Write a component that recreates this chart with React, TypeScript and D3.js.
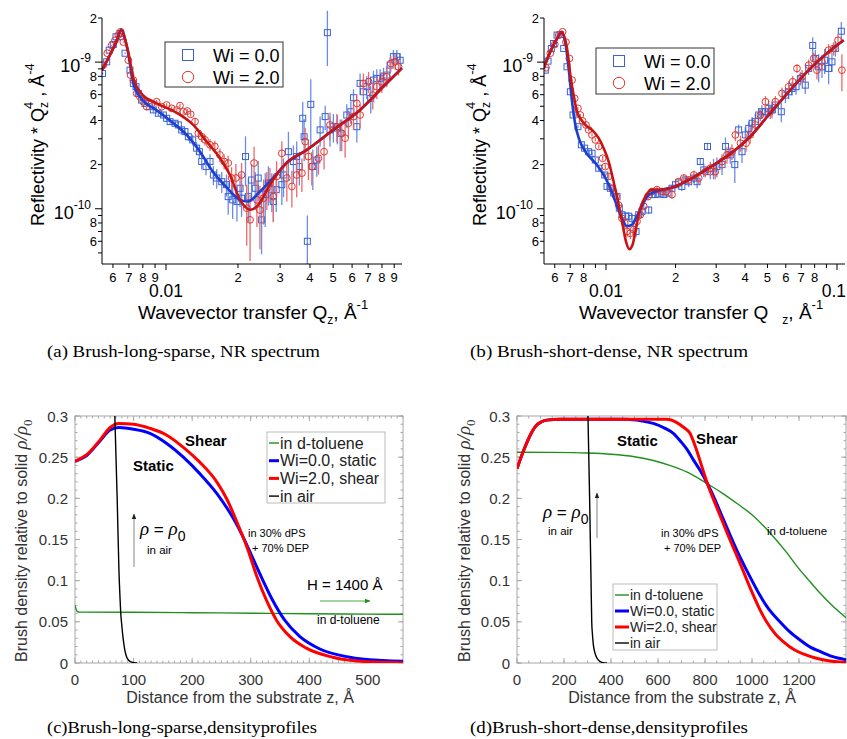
import React from "react";
import * as d3 from "d3";

type XY = [number, number];
type Pt = [number, number, number];

const SANS = "'Liberation Sans', Arial, Helvetica, sans-serif";
const SERIF = "'Liberation Serif', 'Times New Roman', serif";

const MARK_BLUE = "#3a62d6";
const MARK_RED = "#e0362e";
const FIT_BLUE = "#1d3fcf";
const FIT_RED = "#c81414";
const ERR_BLUE = "#6b8be6";
const ERR_RED = "#ea6a6a";

// ---- (a) Brush-long-sparse, NR spectrum ----
// q in 1/Å, reflectivity*Qz^4 in units of 1e-10 Å^-4 ; points are [q, R, err]
const aFitStatic: XY[] = [
  [0.0054, 8.8], [0.0058, 11.0], [0.0062, 13.8], [0.0065, 16.6], [0.0068, 13.6], [0.00695, 11.5],
  [0.0073, 7.2], [0.008, 5.5], [0.0091, 4.72], [0.0107, 3.85], [0.0122, 3.19], [0.0139, 2.44],
  [0.0157, 1.79], [0.018, 1.39], [0.0204, 1.15], [0.022, 1.12], [0.0247, 1.31], [0.028, 1.62],
  [0.032, 2.06], [0.0388, 2.52], [0.05, 3.45], [0.0648, 4.72], [0.0809, 6.79], [0.097, 9.1],
];
const aFitShear: XY[] = [
  [0.0054, 8.8], [0.0058, 11.0], [0.0062, 13.8], [0.0065, 16.6], [0.0068, 13.6], [0.00695, 11.75],
  [0.0073, 7.78], [0.008, 5.96], [0.0091, 5.26], [0.0111, 4.5], [0.013, 3.73], [0.0148, 2.87],
  [0.0168, 2.22], [0.0185, 1.7], [0.0204, 1.15], [0.0225, 0.985], [0.0243, 1.06], [0.0272, 1.46],
  [0.032, 2.06], [0.0388, 2.52], [0.05, 3.45], [0.0648, 4.72], [0.0809, 6.79], [0.097, 9.1],
];
const aPtsStatic: Pt[] = [
  [0.00543, 8.37, 0.15], [0.00565, 10.05, 0.15], [0.00579, 12.07, 0.15], [0.00602, 13.2, 0.15],
  [0.00618, 14.9, 0.15], [0.00642, 15.7, 0.15], [0.00652, 14.9, 0.15], [0.00674, 11.5, 0.15],
  [0.00707, 8.82, 0.15], [0.0073, 7.16, 0.15], [0.00749, 6.8, 0.15], [0.00766, 6.12, 0.15],
  [0.00791, 5.51, 0.15], [0.00817, 5.23, 0.15], [0.00852, 4.97, 0.2], [0.00885, 4.72, 0.2],
  [0.00929, 4.48, 0.2], [0.00975, 4.36, 0.2], [0.01006, 4.14, 0.2], [0.0104, 3.93, 0.2],
  [0.0109, 3.83, 0.2], [0.01126, 3.73, 0.2], [0.01163, 3.45, 0.2], [0.012, 3.36, 0.2],
  [0.0124, 3.1, 0.2], [0.01293, 2.95, 0.25], [0.01343, 2.59, 0.25], [0.01379, 2.45, 0.25],
  [0.0141, 2.1, 0.25], [0.0147, 1.94, 0.25], [0.01528, 2.1, 0.25], [0.01578, 1.7, 0.25],
  [0.0163, 1.62, 0.25], [0.0171, 1.53, 0.25], [0.0179, 1.46, 0.25], [0.0182, 1.21, 0.3],
  [0.019, 1.15, 0.3], [0.0198, 1.12, 0.3], [0.0204, 1.38, 0.35], [0.0207, 1.18, 0.3],
  [0.0215, 2.27, 0.85], [0.0221, 1.21, 0.4], [0.0228, 1.57, 0.45], [0.0236, 1.38, 0.4],
  [0.0243, 1.62, 0.5], [0.0251, 0.84, 0.35], [0.026, 1.25, 0.5], [0.0268, 1.5, 0.45],
  [0.0277, 1.35, 0.4], [0.0281, 1.12, 0.3], [0.0289, 1.35, 0.4], [0.0305, 1.46, 0.4],
  [0.031, 1.7, 0.5], [0.0325, 2.45, 0.9], [0.0341, 2.1, 0.6], [0.0352, 2.27, 0.6],
  [0.0361, 1.94, 0.5], [0.0373, 4.14, 1.2], [0.0378, 3.1, 1.0], [0.039, 0.6, 0.3],
  [0.0403, 5.15, 2.5], [0.0411, 1.94, 0.6], [0.0427, 2.15, 0.5], [0.0441, 3.45, 0.8],
  [0.0463, 4.25, 0.8], [0.0473, 15.9, 6.5], [0.0485, 3.45, 0.8], [0.0501, 3.63, 0.8],
  [0.0521, 3.55, 0.8], [0.0535, 3.27, 0.8], [0.057, 4.36, 0.8], [0.0593, 4.59, 0.8],
  [0.0608, 5.72, 0.8], [0.0628, 3.63, 0.8], [0.0648, 7.16, 1.2], [0.0669, 6.28, 1.2],
  [0.0691, 6.8, 1.2], [0.0718, 5.66, 1.2], [0.0737, 7.54, 1.2], [0.0761, 7.74, 1.2],
  [0.0786, 7.74, 1.2], [0.0812, 7.95, 1.2], [0.0838, 8.16, 1.2], [0.0865, 9.54, 1.2],
  [0.0893, 10.9, 1.2], [0.0923, 10.9, 1.2], [0.0953, 10.3, 1.2],
];
const aPtsShear: Pt[] = [
  [0.00547, 9.54, 0.15], [0.00568, 11.5, 0.15], [0.00592, 13.0, 0.15], [0.00612, 14.1, 0.15],
  [0.00632, 15.3, 0.15], [0.00646, 16.1, 0.15], [0.00663, 13.7, 0.15], [0.00696, 10.3, 0.15],
  [0.00711, 8.16, 0.15], [0.0073, 7.54, 0.15], [0.00754, 6.12, 0.15], [0.00778, 5.81, 0.15],
  [0.00804, 5.37, 0.15], [0.0083, 4.97, 0.15], [0.00871, 5.23, 0.15], [0.00914, 5.37, 0.15],
  [0.00959, 4.97, 0.15], [0.01006, 5.1, 0.15], [0.01056, 4.84, 0.15], [0.0111, 4.72, 0.15],
  [0.01144, 5.05, 0.15], [0.01182, 4.59, 0.15], [0.01228, 4.64, 0.15], [0.01268, 4.41, 0.15],
  [0.01322, 3.93, 0.25], [0.01365, 3.27, 0.25], [0.0141, 3.1, 0.25], [0.01456, 2.95, 0.25],
  [0.01528, 2.73, 0.25], [0.016, 2.66, 0.25], [0.0168, 2.33, 0.25], [0.0175, 2.1, 0.25],
  [0.0182, 2.05, 0.25], [0.0188, 1.62, 0.3], [0.0196, 1.62, 0.4], [0.0207, 1.7, 0.35],
  [0.02175, 1.01, 0.45], [0.02246, 0.84, 0.4], [0.02335, 2.05, 0.6], [0.024, 1.15, 0.4],
  [0.0247, 0.98, 0.45], [0.0256, 1.18, 0.4], [0.0264, 1.38, 0.4], [0.0272, 1.5, 0.4],
  [0.0281, 1.21, 0.4], [0.029, 1.66, 0.45], [0.0305, 2.39, 0.5], [0.032, 1.62, 0.5],
  [0.0336, 1.42, 0.4], [0.0352, 1.7, 0.5], [0.037, 1.75, 0.45], [0.0382, 2.87, 0.7],
  [0.0394, 2.27, 0.7], [0.0407, 1.94, 0.5], [0.0434, 2.21, 0.5], [0.0458, 2.45, 0.6],
  [0.0485, 3.73, 0.8], [0.0518, 3.63, 0.8], [0.0543, 3.27, 0.8], [0.0561, 3.03, 0.8],
  [0.0579, 3.83, 0.8], [0.0608, 4.25, 0.8], [0.0628, 5.23, 0.8], [0.0648, 4.36, 0.8],
  [0.0669, 7.16, 1.2], [0.0703, 7.35, 1.2], [0.0732, 5.96, 1.2], [0.0761, 6.8, 1.2],
  [0.0799, 7.35, 1.2], [0.0838, 7.95, 1.2], [0.0871, 9.79, 1.2], [0.0908, 10.05, 1.2],
  [0.0938, 9.3, 1.2],
];

// ---- (b) Brush-short-dense, NR spectrum ----
const bFitStatic: XY[] = [
  [0.00537, 9.06], [0.00574, 11.8], [0.00614, 14.5], [0.00641, 15.9], [0.00667, 13.5], [0.00689, 9.06],
  [0.00713, 5.37], [0.00737, 3.73], [0.00767, 2.95], [0.00814, 2.45], [0.00899, 2.05], [0.00977, 1.7],
  [0.01044, 1.38], [0.01105, 1.09], [0.01173, 0.86], [0.01233, 0.76], [0.01296, 0.78], [0.01362, 0.89],
  [0.01431, 1.04], [0.01505, 1.21], [0.0158, 1.28], [0.0175, 1.35], [0.02, 1.42], [0.0236, 1.62],
  [0.0278, 1.89], [0.034, 2.33], [0.0415, 3.03], [0.0506, 4.36], [0.0618, 6.28], [0.0754, 8.82],
  [0.092, 11.76], [0.1069, 14.1],
];
const bFitShear: XY[] = [
  [0.00537, 9.06], [0.00574, 11.8], [0.00614, 14.5], [0.00641, 16.1], [0.00678, 12.4], [0.00701, 8.16],
  [0.00724, 5.96], [0.00749, 4.59], [0.00774, 4.14], [0.00814, 3.73], [0.0087, 3.45], [0.0093, 3.03],
  [0.00977, 2.59], [0.01027, 2.1], [0.01079, 1.53], [0.01127, 1.12], [0.01173, 0.82], [0.0122, 0.6],
  [0.01262, 0.53], [0.01304, 0.57], [0.01349, 0.74], [0.01408, 1.01], [0.0148, 1.21], [0.0158, 1.35],
  [0.0175, 1.35], [0.02, 1.42], [0.0236, 1.62], [0.0278, 1.89], [0.034, 2.33], [0.0415, 3.03],
  [0.0506, 4.36], [0.0618, 6.28], [0.0754, 8.82], [0.092, 11.76], [0.1069, 14.1],
];
const bPtsStatic: Pt[] = [
  [0.00546, 8.82, 0.08], [0.00561, 10.16, 0.08], [0.0058, 12.4, 0.08], [0.00593, 13.4, 0.08],
  [0.00614, 15.3, 0.08], [0.00634, 15.4, 0.08], [0.00656, 12.4, 0.08], [0.00678, 9.3, 0.08],
  [0.00701, 6.28, 0.08], [0.0072, 4.36, 0.08], [0.00756, 3.63, 0.08], [0.00782, 2.73, 0.08],
  [0.00808, 2.59, 0.08], [0.00841, 2.45, 0.08], [0.0087, 2.39, 0.08], [0.00899, 2.15, 0.08],
  [0.0093, 1.89, 0.08], [0.00987, 1.7, 0.08], [0.0101, 1.42, 0.08], [0.01044, 1.38, 0.08],
  [0.01079, 1.28, 0.06], [0.01116, 1.21, 0.06], [0.01142, 1.01, 0.06], [0.01173, 0.91, 0.06],
  [0.01213, 0.89, 0.06], [0.01254, 0.89, 0.06], [0.01296, 0.86, 0.06], [0.01349, 0.7, 0.06],
  [0.01385, 0.91, 0.06], [0.01431, 0.96, 0.06], [0.0153, 0.98, 0.06], [0.0158, 1.25, 0.06],
  [0.01635, 1.25, 0.06], [0.017, 1.26, 0.06], [0.01777, 1.25, 0.06], [0.01855, 1.28, 0.08],
  [0.0193, 1.38, 0.08], [0.02, 1.46, 0.08], [0.0206, 1.5, 0.1], [0.0213, 1.42, 0.1],
  [0.022, 1.57, 0.1], [0.0228, 1.53, 0.12], [0.024, 1.62, 0.12], [0.0248, 1.53, 0.15],
  [0.0256, 2.1, 0.12], [0.0265, 1.84, 0.2], [0.0275, 2.66, 0.15], [0.0283, 1.79, 0.2],
  [0.0292, 1.89, 0.3], [0.0302, 1.94, 0.3], [0.0318, 2.0, 0.3], [0.0329, 2.66, 0.4],
  [0.0345, 2.33, 0.3], [0.0361, 2.0, 0.5], [0.0375, 3.45, 0.3], [0.0388, 2.45, 0.4],
  [0.0401, 3.19, 0.4], [0.0415, 3.54, 0.4], [0.0429, 3.83, 0.4], [0.0443, 3.93, 0.5],
  [0.0458, 4.36, 0.5], [0.0473, 4.59, 0.5], [0.049, 4.59, 0.6], [0.0506, 4.84, 0.6],
  [0.0523, 4.72, 0.6], [0.0541, 5.1, 0.6], [0.0574, 4.59, 0.7], [0.0598, 5.96, 0.7],
  [0.0618, 6.28, 0.7], [0.0639, 6.62, 0.7], [0.0665, 6.8, 0.8], [0.0694, 7.74, 0.8],
  [0.0729, 6.97, 0.9], [0.0754, 9.06, 0.9], [0.0785, 13.0, 1.8], [0.0806, 10.6, 1.5],
  [0.0833, 9.3, 2.0], [0.0861, 9.3, 1.5], [0.0884, 10.3, 2.0], [0.092, 9.06, 2.0],
  [0.0951, 10.05, 1.5], [0.0984, 12.4, 1.5], [0.1044, 16.25, 2.5],
];
const bPtsShear: Pt[] = [
  [0.0055, 9.15, 0.08], [0.00574, 11.5, 0.08], [0.006, 13.2, 0.08], [0.00624, 15.3, 0.08],
  [0.00649, 16.1, 0.08], [0.00671, 13.7, 0.08], [0.00694, 10.6, 0.08], [0.00713, 7.54, 0.08],
  [0.00732, 5.66, 0.08], [0.00756, 4.84, 0.08], [0.00774, 4.36, 0.08], [0.00792, 3.97, 0.08],
  [0.00819, 3.73, 0.08], [0.00841, 3.45, 0.08], [0.0087, 3.19, 0.08], [0.00899, 2.95, 0.08],
  [0.0093, 2.66, 0.08], [0.00967, 2.21, 0.08], [0.00993, 1.94, 0.08], [0.01027, 1.66, 0.08],
  [0.01062, 1.38, 0.06], [0.01105, 1.21, 0.06], [0.01134, 1.06, 0.06], [0.01173, 0.86, 0.06],
  [0.01205, 0.8, 0.06], [0.01233, 0.7, 0.06], [0.01274, 0.68, 0.06], [0.01318, 0.72, 0.06],
  [0.01362, 0.82, 0.06], [0.01408, 0.91, 0.06], [0.01456, 1.04, 0.06], [0.0152, 1.21, 0.06],
  [0.0158, 1.31, 0.06], [0.01662, 1.35, 0.06], [0.0175, 1.31, 0.06], [0.0182, 1.31, 0.06],
  [0.0193, 1.25, 0.08], [0.0206, 1.53, 0.08], [0.0217, 1.62, 0.1], [0.0228, 1.57, 0.1],
  [0.024, 1.7, 0.12], [0.0252, 1.62, 0.15], [0.0269, 1.79, 0.15], [0.0283, 1.89, 0.2],
  [0.0297, 1.79, 0.2], [0.0318, 2.1, 0.25], [0.0334, 2.33, 0.3], [0.0351, 2.45, 0.3],
  [0.0363, 3.19, 0.3], [0.0382, 2.8, 0.35], [0.0404, 2.8, 0.35], [0.0421, 3.19, 0.4],
  [0.0443, 3.73, 0.4], [0.0466, 4.36, 0.4], [0.049, 5.37, 0.5], [0.0514, 4.59, 0.5],
  [0.0541, 5.37, 0.5], [0.0578, 6.12, 0.6], [0.0618, 6.8, 0.6], [0.0643, 7.35, 0.7],
  [0.0671, 9.06, 0.6], [0.0706, 7.95, 0.9], [0.0754, 9.54, 0.9], [0.0793, 10.6, 1.0],
  [0.0819, 8.82, 1.2], [0.0861, 10.05, 1.2], [0.092, 12.07, 1.2], [0.0967, 12.4, 1.3],
  [0.101, 14.1, 1.5], [0.105, 8.82, 2.5],
];

// x tick labels on the top panels
const aXLabels = [0.006, 0.007, 0.008, 0.009, 0.02, 0.03, 0.04, 0.05, 0.06, 0.07, 0.08, 0.09];
const bXLabels = [0.006, 0.007, 0.008, 0.02, 0.03, 0.04, 0.05, 0.06, 0.07, 0.08];
const aXBig = [0.01];
const bXBig = [0.01, 0.1];

// ---- (c) Brush-long-sparse, density profiles (z in Å, rho/rho0) ----
const cToluene: XY[] = [
  [0, 0.07], [4, 0.0625], [8, 0.0618], [100, 0.0616], [200, 0.0611], [300, 0.0605],
  [400, 0.0599], [500, 0.0594], [560, 0.0592],
];
const cStatic: XY[] = [
  [0, 0.245], [20, 0.252], [43, 0.27], [60, 0.283], [75, 0.286], [100, 0.284], [128, 0.279],
  [156, 0.267], [185, 0.25], [213, 0.23], [242, 0.206], [270, 0.176], [285, 0.156], [300, 0.133],
  [310, 0.117], [319, 0.103], [336, 0.078], [358, 0.052], [384, 0.032], [418, 0.017], [469, 0.007],
  [526, 0.003], [560, 0.002],
];
const cShear: XY[] = [
  [0, 0.245], [20, 0.253], [43, 0.271], [60, 0.286], [75, 0.291], [100, 0.29], [128, 0.285],
  [156, 0.277], [185, 0.262], [213, 0.244], [242, 0.22], [260, 0.198], [280, 0.165], [295, 0.138],
  [310, 0.106], [327, 0.076], [344, 0.052], [367, 0.032], [395, 0.018], [440, 0.007], [498, 0.0016],
  [560, 0.0003],
];
const cAir: XY[] = [
  [68, 0.3], [72, 0.2], [75, 0.113], [77, 0.077], [78, 0.062], [80, 0.045], [82.5, 0.028],
  [85, 0.016], [88, 0.0077], [92, 0.003], [97, 0.001], [106, 0],
];

// ---- (d) Brush-short-dense, density profiles ----
const dToluene: XY[] = [
  [0, 0.256], [150, 0.2558], [297, 0.255], [400, 0.2535], [500, 0.2505], [580, 0.246], [650, 0.24],
  [722, 0.232], [808, 0.218], [870, 0.207], [935, 0.194], [1000, 0.18], [1077, 0.158], [1148, 0.134],
  [1190, 0.118], [1240, 0.101], [1289, 0.085], [1340, 0.07], [1400, 0.055],
];
const dStatic: XY[] = [
  [0, 0.236], [20, 0.252], [41, 0.267], [62, 0.28], [84, 0.289], [105, 0.293], [126, 0.295],
  [183, 0.296], [468, 0.296], [530, 0.294], [580, 0.291], [630, 0.285], [665, 0.279], [700, 0.268],
  [722, 0.26], [750, 0.247], [779, 0.234], [810, 0.218], [840, 0.2], [870, 0.18], [900, 0.16],
  [940, 0.134], [980, 0.111], [1000, 0.1], [1030, 0.084], [1070, 0.066], [1119, 0.05], [1160, 0.038],
  [1204, 0.028], [1250, 0.019], [1289, 0.014], [1340, 0.008], [1400, 0.004],
];
const dShear: XY[] = [
  [0, 0.236], [20, 0.252], [41, 0.267], [62, 0.28], [84, 0.289], [105, 0.293], [126, 0.295],
  [183, 0.296], [637, 0.296], [680, 0.292], [710, 0.286], [736, 0.279], [760, 0.262], [785, 0.24],
  [810, 0.218], [840, 0.196], [870, 0.175], [900, 0.154], [930, 0.134], [965, 0.11], [1000, 0.086],
  [1030, 0.067], [1062, 0.05], [1100, 0.035], [1133, 0.026], [1180, 0.016], [1218, 0.011],
  [1270, 0.006], [1318, 0.003], [1400, 0.0005],
];
const dAir: XY[] = [
  [302, 0.3], [309, 0.2], [315, 0.1], [318, 0.05], [321, 0.035], [325, 0.022], [332, 0.012],
  [340, 0.006], [353, 0.002], [365, 0.0005], [383, 0],
];

const legendRows = ["in d-toluene", "Wi=0.0, static", "Wi=2.0, shear", "in air"];
const profileColors = ["#1f8f1f", "#0000ff", "#ff0000", "#000000"];
const profileWidths = [1.4, 3, 3, 1.4];

const near = (a: number, list: number[]) => list.some((v) => Math.abs(v - a) / v < 1e-6);

function LogPanel(p: {
  id: string;
  xDomain: [number, number];
  xRange: [number, number];
  fitStatic: XY[];
  fitShear: XY[];
  ptsStatic: Pt[];
  ptsShear: Pt[];
  xLabels: number[];
  xBig: number[];
  legend: { x: number; y: number; w: number; h: number };
}) {
  const yDomain: [number, number] = [0.42, 20];
  const x = d3.scaleLog().domain(p.xDomain).range(p.xRange);
  const y = d3.scaleLog().domain(yDomain).range([264, 18]);
  const line = d3
    .line<XY>()
    .x((d) => x(d[0]))
    .y((d) => y(d[1]))
    .curve(d3.curveMonotoneX);
  const x0 = p.xRange[0];
  const y0 = 264;

  const yTicks: number[] = [];
  for (let k = -1; k <= 1; k++)
    for (let m = 1; m <= 9; m++) {
      const v = m * Math.pow(10, k);
      if (v >= yDomain[0] && v <= yDomain[1] * 1.0001) yTicks.push(v);
    }
  const xTicks: number[] = [];
  for (let k = -3; k <= -1; k++)
    for (let m = 1; m <= 9; m++) {
      const v = m * Math.pow(10, k);
      if (v >= p.xDomain[0] && v <= p.xDomain[1]) xTicks.push(v);
    }
  const lo = (v: number, e: number) => y(Math.max(v - e, 0.2));
  const L = p.legend;

  return (
    <g>
      <defs>
        <clipPath id={`clip-${p.id}`}>
          <rect x={x0} y={8} width={p.xRange[1] - x0 + 4} height={y0 - 8} />
        </clipPath>
      </defs>
      <g clipPath={`url(#clip-${p.id})`}>
        {p.ptsStatic.map((d, i) => (
          <line key={`be${i}`} x1={x(d[0])} x2={x(d[0])} y1={y(d[1] + d[2])} y2={lo(d[1], d[2])}
            stroke={ERR_BLUE} strokeWidth={1.3} />
        ))}
        {p.ptsStatic.map((d, i) => (
          <rect key={`bs${i}`} x={x(d[0]) - 3} y={y(d[1]) - 3} width={6} height={6}
            fill="none" stroke={MARK_BLUE} strokeWidth={1} />
        ))}
        {p.ptsShear.map((d, i) => (
          <line key={`re${i}`} x1={x(d[0])} x2={x(d[0])} y1={y(d[1] + d[2])} y2={lo(d[1], d[2])}
            stroke={ERR_RED} strokeWidth={1.3} />
        ))}
        {p.ptsShear.map((d, i) => (
          <circle key={`rc${i}`} cx={x(d[0])} cy={y(d[1])} r={3.4}
            fill="none" stroke={MARK_RED} strokeWidth={1} />
        ))}
        <path d={line(p.fitStatic) ?? ""} fill="none" stroke={FIT_BLUE} strokeWidth={2.6} />
        <path d={line(p.fitShear) ?? ""} fill="none" stroke={FIT_RED} strokeWidth={2.6} />
      </g>

      {/* axes */}
      <line x1={x0} x2={x0} y1={18} y2={y0} stroke="#000" strokeWidth={1} />
      <line x1={x0} x2={p.xRange[1]} y1={y0} y2={y0} stroke="#000" strokeWidth={1} />
      {yTicks.map((v) => {
        const m = Math.round(v / Math.pow(10, Math.floor(Math.log10(v) + 1e-9)));
        const major = m === 1;
        const yy = y(v);
        const exp = Math.round(Math.log10(v)) - 10;
        return (
          <g key={`yt${v}`}>
            <line x1={x0 - (major ? 7 : 4)} x2={x0} y1={yy} y2={yy} stroke="#000" />
            {major ? (
              <text x={x0 - 11} y={yy + 10} textAnchor="end" fontSize={18}>
                10<tspan fontSize={12} dy={-10}>{exp}</tspan>
              </text>
            ) : m % 2 === 0 ? (
              <text x={x0 - 5} y={yy + 4.5} textAnchor="end" fontSize={13}>{m}</text>
            ) : null}
          </g>
        );
      })}
      {xTicks.map((v) => {
        const xx = x(v);
        const m = Math.round(v / Math.pow(10, Math.floor(Math.log10(v) + 1e-9)));
        const major = m === 1;
        const atEdge = xx > 830;
        return (
          <g key={`xt${v}`}>
            <line x1={xx} x2={xx} y1={y0} y2={y0 + (major ? 6 : 4)} stroke="#000" />
            {near(v, p.xLabels) && (
              <text x={xx} y={y0 + 17.5} textAnchor="middle" fontSize={13}>{m}</text>
            )}
            {near(v, p.xBig) && (
              <text x={atEdge ? 846 : xx} y={y0 + 33} textAnchor={atEdge ? "end" : "middle"} fontSize={17.5}>
                {String(+v.toFixed(3))}
              </text>
            )}
          </g>
        );
      })}

      {/* legend */}
      <rect x={L.x} y={L.y} width={L.w} height={L.h} fill="#fff" stroke="#333" strokeWidth={1} />
      <rect x={L.x + 17.5} y={L.y + 7.5} width={11} height={11} fill="none" stroke={MARK_BLUE} strokeWidth={1} />
      <text x={L.x + 48} y={L.y + 19.5} fontSize={18}>Wi = 0.0</text>
      <circle cx={L.x + 23} cy={L.y + 35} r={5.7} fill="none" stroke={MARK_RED} strokeWidth={1} />
      <text x={L.x + 48} y={L.y + 41.5} fontSize={18}>Wi = 2.0</text>
    </g>
  );
}

function DensityPanel(p: {
  id: string;
  xDomain: [number, number];
  xRange: [number, number];
  xMajor: number;
  xMinor: number;
  xLabelMax: number;
  curves: XY[][];
  legend: { x: number; y: number; w: number; h: number; font: number; dy: number; line: number };
}) {
  const x = d3.scaleLinear().domain(p.xDomain).range(p.xRange);
  const y = d3.scaleLinear().domain([0, 0.3]).range([663, 416]);
  const line = d3
    .line<XY>()
    .x((d) => x(d[0]))
    .y((d) => y(d[1]))
    .curve(d3.curveMonotoneX);
  const [xl, xr] = p.xRange;
  const yb = 663;
  const yt = 416;
  const gray = "#a8a8a8";
  const xMaj = d3.range(p.xDomain[0], p.xDomain[1] + 1, p.xMajor);
  const xMin = d3.range(p.xDomain[0], p.xDomain[1] + 1, p.xMinor);
  const yMaj = d3.range(0, 7).map((i) => +(i * 0.05).toFixed(2));
  const yMin = d3.range(0, 31).map((i) => i * 0.01);
  const L = p.legend;

  return (
    <g>
      <defs>
        <clipPath id={`clip-${p.id}`}>
          <rect x={xl} y={yt} width={xr - xl} height={yb - yt} />
        </clipPath>
      </defs>
      <rect x={xl} y={yt} width={xr - xl} height={yb - yt} fill="none" stroke={gray} strokeWidth={1} />
      {xMin.map((v) => (
        <g key={`xm${v}`} stroke={gray}>
          <line x1={x(v)} x2={x(v)} y1={yb} y2={yb - 2.5} />
          <line x1={x(v)} x2={x(v)} y1={yt} y2={yt + 2.5} />
        </g>
      ))}
      {xMaj.map((v) => (
        <g key={`xM${v}`}>
          <line x1={x(v)} x2={x(v)} y1={yb} y2={yb - 5} stroke={gray} />
          <line x1={x(v)} x2={x(v)} y1={yt} y2={yt + 5} stroke={gray} />
          {v <= p.xLabelMax && (
            <text x={x(v)} y={yb + 22} textAnchor="middle" fontSize={15} fill="#333">{v}</text>
          )}
        </g>
      ))}
      {yMin.map((v) => (
        <g key={`ym${v}`} stroke={gray}>
          <line x1={xl} x2={xl + 2.5} y1={y(v)} y2={y(v)} />
          <line x1={xr} x2={xr - 2.5} y1={y(v)} y2={y(v)} />
        </g>
      ))}
      {yMaj.map((v) => (
        <g key={`yM${v}`}>
          <line x1={xl} x2={xl + 5} y1={y(v)} y2={y(v)} stroke={gray} />
          <line x1={xr} x2={xr - 5} y1={y(v)} y2={y(v)} stroke={gray} />
          <text x={xl - 7} y={y(v) + 5.5} textAnchor="end" fontSize={15} fill="#333">{String(v)}</text>
        </g>
      ))}
      <g clipPath={`url(#clip-${p.id})`}>
        {p.curves.map((c, i) => (
          <path key={`c${i}`} d={line(c) ?? ""} fill="none" stroke={profileColors[i]}
            strokeWidth={profileWidths[i]} />
        ))}
      </g>
      <rect x={L.x} y={L.y} width={L.w} height={L.h} fill="#fff" stroke="#bbb" strokeWidth={1} />
      {legendRows.map((t, i) => {
        const cy = L.y + 11 + i * L.dy;
        return (
          <g key={t}>
            <line x1={L.x + 2} x2={L.x + 2 + L.line} y1={cy} y2={cy} stroke={profileColors[i]}
              strokeWidth={profileWidths[i]} />
            <text x={L.x + 3 + L.line} y={cy + L.font * 0.36} fontSize={L.font} fill="#222">{t}</text>
          </g>
        );
      })}
    </g>
  );
}

function YTitleTop({ x }: { x: number }) {
  return (
    <text transform={`translate(${x},226) rotate(-90)`} fontSize={18}>
      Reflectivity * Q<tspan fontSize={12} dy={4}>z</tspan>
      <tspan fontSize={13} dx={-7} dy={-15}>4</tspan>
      <tspan fontSize={18} dy={11}> ,  Å</tspan>
      <tspan fontSize={13} dy={-10}>-4</tspan>
    </text>
  );
}

function YTitleBottom({ x }: { x: number }) {
  return (
    <text transform={`translate(${x},662) rotate(-90)`} fontSize={16} fill="#333">
      Brush density relative to solid{"  "}
      <tspan fontFamily={SERIF} fontStyle="italic" fontSize={19}>ρ/ρ</tspan>
      <tspan fontFamily={SERIF} fontSize={13} dy={5}>0</tspan>
    </text>
  );
}

function RhoLabel({ x, y }: { x: number; y: number }) {
  return (
    <text x={x} y={y} fontSize={17}>
      <tspan fontFamily={SERIF} fontStyle="italic" fontSize={19}>ρ</tspan> = <tspan fontFamily={SERIF} fontStyle="italic" fontSize={19}>ρ</tspan>
      <tspan fontSize={14} dy={6}>0</tspan>
    </text>
  );
}

export default function App() {
  return (
    <div style={{ position: "absolute", left: 0, top: 0 }}>
      <svg width={847} height={739} style={{ display: "block", background: "#fff" }} fontFamily={SANS}>
        <defs>
          <marker id="arrowK" viewBox="0 0 10 10" refX={9} refY={5} markerWidth={7} markerHeight={7} orient="auto">
            <path d="M0,1 L10,5 L0,9 z" fill="#222" />
          </marker>
          <marker id="arrowG" viewBox="0 0 10 10" refX={9} refY={5} markerWidth={7} markerHeight={7} orient="auto">
            <path d="M0,1 L10,5 L0,9 z" fill="#1f8f1f" />
          </marker>
        </defs>

        {/* (a) */}
        <LogPanel id="a" xDomain={[0.0054, 0.097]} xRange={[102, 402]}
          fitStatic={aFitStatic} fitShear={aFitShear} ptsStatic={aPtsStatic} ptsShear={aPtsShear}
          xLabels={aXLabels} xBig={aXBig} legend={{ x: 165, y: 42, w: 118, h: 45 }} />
        <YTitleTop x={44} />
        <text x={138} y={319} fontSize={19}>
          Wavevector transfer Q<tspan fontSize={12} dy={5}>z</tspan>
          <tspan dy={-5}>, Å</tspan>
          <tspan fontSize={13} dy={-10}>-1</tspan>
        </text>

        {/* (b) */}
        <LogPanel id="b" xDomain={[0.00539, 0.1083]} xRange={[544, 845]}
          fitStatic={bFitStatic} fitShear={bFitShear} ptsStatic={bPtsStatic} ptsShear={bPtsShear}
          xLabels={bXLabels} xBig={bXBig} legend={{ x: 596, y: 48, w: 118, h: 46 }} />
        <YTitleTop x={486} />
        <text x={579} y={319} fontSize={19}>
          Wavevector transfer Q<tspan fontSize={12} dx={14} dy={5}>z</tspan>
          <tspan dy={-5}>, Å</tspan>
          <tspan fontSize={13} dy={-10}>-1</tspan>
        </text>

        <text x={47} y={357} fontFamily={SERIF} fontSize={17} textLength={273} lengthAdjust="spacingAndGlyphs">
          (a) Brush-long-sparse, NR spectrum
        </text>
        <text x={470} y={357} fontFamily={SERIF} fontSize={17} textLength={278} lengthAdjust="spacingAndGlyphs">
          (b) Brush-short-dense, NR spectrum
        </text>

        {/* (c) */}
        <DensityPanel id="c" xDomain={[0, 560]} xRange={[75, 403]} xMajor={100} xMinor={10} xLabelMax={500}
          curves={[cToluene, cStatic, cShear, cAir]}
          legend={{ x: 267, y: 432, w: 118, h: 71, font: 16, dy: 17.7, line: 10 }} />
        <YTitleBottom x={27} />
        <text x={240} y={703} textAnchor="middle" fontSize={16} fill="#333">Distance from the substrate z, Å</text>
        <text x={185} y={446} fontSize={15} fontWeight="bold">Shear</text>
        <text x={133} y={471} fontSize={15} fontWeight="bold">Static</text>
        <RhoLabel x={140} y={535} />
        <text x={147} y={554} fontSize={11.5}>in air</text>
        <line x1={134} x2={134} y1={567} y2={514} stroke="#666" strokeWidth={0.8} markerEnd="url(#arrowK)" />
        <text x={248} y={537} fontSize={11}>in 30% dPS</text>
        <text x={252} y={552} fontSize={11}>+ 70% DEP</text>
        <text x={307} y={590} fontSize={15}>H = 1400 Å</text>
        <line x1={320} x2={370} y1={601} y2={601} stroke="#1f8f1f" strokeWidth={0.8} markerEnd="url(#arrowG)" />
        <text x={317} y={624} fontSize={12}>in d-toluene</text>

        {/* (d) */}
        <DensityPanel id="d" xDomain={[0, 1400]} xRange={[517, 846]} xMajor={200} xMinor={50} xLabelMax={1200}
          curves={[dToluene, dStatic, dShear, dAir]}
          legend={{ x: 613, y: 584, w: 104, h: 66, font: 14, dy: 16, line: 14 }} />
        <YTitleBottom x={470} />
        <text x={682} y={703} textAnchor="middle" fontSize={16} fill="#333">Distance from the substrate z, Å</text>
        <text x={617} y={446} fontSize={15} fontWeight="bold">Static</text>
        <text x={696} y={444} fontSize={15} fontWeight="bold">Shear</text>
        <RhoLabel x={543} y={518} />
        <text x={548} y={535} fontSize={11.5}>in air</text>
        <line x1={597} x2={597} y1={538} y2={493} stroke="#666" strokeWidth={0.8} markerEnd="url(#arrowK)" />
        <text x={661} y={537} fontSize={11}>in 30% dPS</text>
        <text x={664} y={552} fontSize={11}>+ 70% DEP</text>
        <text x={767} y={535} fontSize={11.5}>in d-toluene</text>

        <text x={47} y={733} fontFamily={SERIF} fontSize={17} textLength={270} lengthAdjust="spacingAndGlyphs">
          (c)Brush-long-sparse,densityprofiles
        </text>
        <text x={470} y={733} fontFamily={SERIF} fontSize={17} textLength={278} lengthAdjust="spacingAndGlyphs">
          (d)Brush-short-dense,densityprofiles
        </text>
      </svg>
    </div>
  );
}
